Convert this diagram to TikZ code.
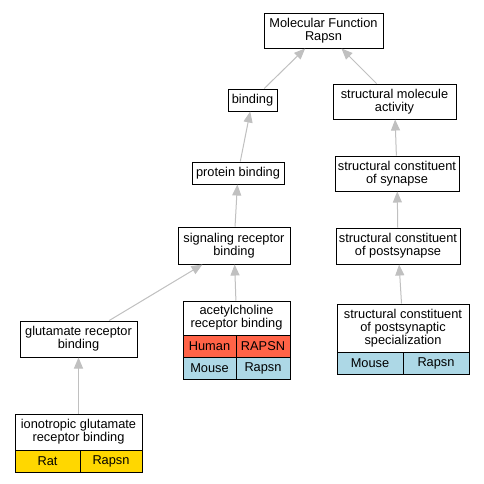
\documentclass[tikz,border=0pt]{standalone}
\usepackage{fontspec}
\setmainfont{Liberation Sans}
\usetikzlibrary{arrows.meta}
\definecolor{edgegray}{RGB}{192,192,192}
\definecolor{human}{RGB}{255,99,71}
\definecolor{mouse}{RGB}{173,216,230}
\definecolor{rat}{RGB}{255,215,0}
\begin{document}
\begin{tikzpicture}[x=1pt,y=-1pt,
  box/.style={draw=black, line width=1pt, fill=white, inner sep=0pt, align=center, font=\fontsize{12.8}{13}\selectfont},
  cell/.style={draw=black, line width=1pt, inner sep=0pt, minimum height=22pt, font=\fontsize{12.8}{13}\selectfont},
  edge/.style={draw=edgegray, line width=1pt, -{Triangle[length=11pt,width=9pt,fill=edgegray]}}]
\fill[white] (0,0) rectangle (484,483);
\useasboundingbox (0,0) rectangle (484,483);
% nodes
\node[box, minimum width=119pt, minimum height=35pt] (mf) at (323.5,30.5) {Molecular Function\\Rapsn};
\node[box, minimum width=49pt, minimum height=22pt] (binding) at (252.5,100) {binding};
\node[box, minimum width=92pt, minimum height=22pt] (protein) at (238,173) {protein binding};
\node[box, minimum width=112pt, minimum height=37pt] (signal) at (234,245.5) {signaling receptor\\binding};
\node[box, minimum width=117pt, minimum height=36pt] (glut) at (78.5,339) {glutamate receptor\\binding};
\node[box, minimum width=127pt, minimum height=36pt] (iono) at (78.5,432) {ionotropic glutamate\\receptor binding};
\node[cell, fill=rat, minimum width=65pt] (ionoA) at (47.5,461) {Rat};
\node[cell, fill=rat, minimum width=62pt] (ionoB) at (111,461) {Rapsn};
\node[box, minimum width=107pt, minimum height=34pt] (ach) at (236.5,318) {acetylcholine\\receptor binding};
\node[cell, fill=human, minimum width=53pt] (achA) at (209.5,346) {Human};
\node[cell, fill=human, minimum width=54pt] (achB) at (263,346) {RAPSN};
\node[cell, fill=mouse, minimum width=53pt] (achC) at (209.5,368) {Mouse};
\node[cell, fill=mouse, minimum width=54pt] (achD) at (263,368) {Rapsn};
\node[box, minimum width=123pt, minimum height=35pt] (sma) at (394.5,101.5) {structural molecule\\activity};
\node[box, minimum width=124pt, minimum height=35pt] (syn) at (397,173.5) {structural constituent\\of synapse};
\node[box, minimum width=124pt, minimum height=36pt] (post) at (398,246) {structural constituent\\of postsynapse};
\node[box, minimum width=132pt, minimum height=48pt] (spec) at (403,328) {structural constituent\\of postsynaptic\\specialization};
\node[cell, fill=mouse, minimum width=66pt] (specA) at (370,363) {Mouse};
\node[cell, fill=mouse, minimum width=66pt] (specB) at (436,363) {Rapsn};
% edges
\draw[edge] (binding) -- (mf);
\draw[edge] (sma) -- (mf);
\draw[edge] (protein) -- (binding);
\draw[edge] (signal) -- (protein);
\draw[edge] (glut) -- (signal);
\draw[edge] (ach) -- (signal);
\draw[edge] (iono) -- (glut);
\draw[edge] (syn) -- (sma);
\draw[edge] (post) -- (syn);
\draw[edge] (spec) -- (post);
\end{tikzpicture}
\end{document}
